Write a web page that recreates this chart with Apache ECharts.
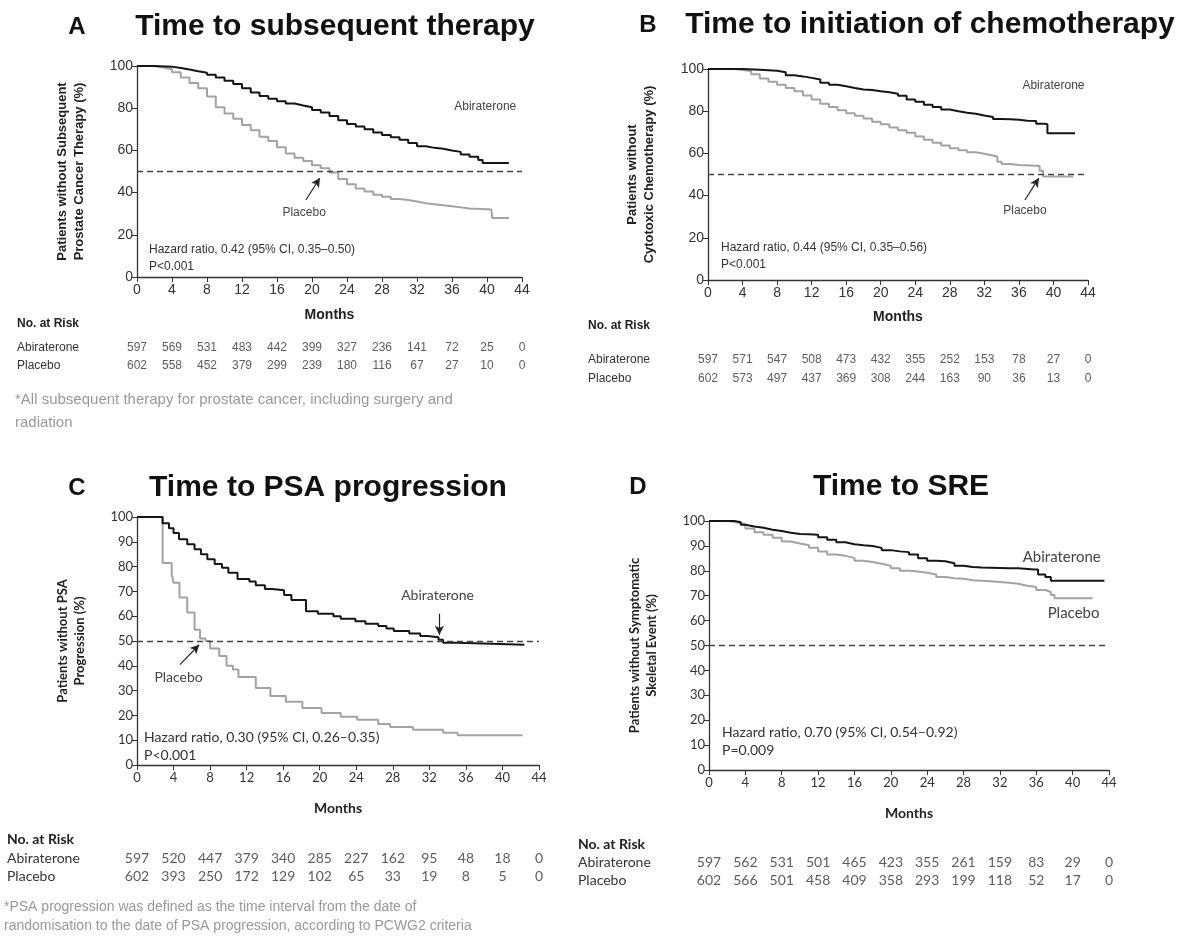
<!DOCTYPE html>
<html><head><meta charset="utf-8">
<script src="https://cdn.jsdelivr.net/npm/echarts@6/dist/echarts.min.js"></script>
<style>html,body{margin:0;padding:0;background:#fff}#c{width:1189px;height:943px}</style>
</head><body><div id="c"></div>
<script>
// ---------- DATA ----------
const riskMonths = [0,4,8,12,16,20,24,28,32,36,40,44];
const groups = ['Abiraterone','Placebo'];

// Panel A: time to subsequent therapy
const aAbi = [[0,100],[2,99.7],[4,99],[5,98.3],[6,97.5],[7,96.8],[8,95.8],[9,94.5],[10,93],[11,91.5],[12,89.5],[13,87.5],[14,85.8],[15,84.5],[16,83.3],[17,82.2],[18,81.3],[19,80.5],[20,79.2],[21,78],[22,76.3],[23,74.3],[24,72.5],[25,71.3],[26,70],[27,68.5],[28,67.3],[29,66.2],[30,65],[31,63.5],[32,62],[33,61.2],[34,60.8],[35,60],[36,59.3],[37,58],[38,57],[39,55.5],[39.5,54],[42.5,54]];
const aPla = [[0,100],[2,99.3],[3,98.5],[4,97],[5,94.5],[6,92],[7,89.5],[8,85.5],[9,80.5],[10,77.5],[11,75],[12,72],[13,69.5],[14,66.5],[15,64.5],[16,61.5],[17,58.5],[18,56.5],[19,55],[20,53],[21,51.5],[22,49.5],[23,46.5],[24,44],[25,42],[26,40.5],[27,39],[28,38],[29,37],[30,36.5],[31,35.8],[32,35],[33,34.5],[34,34],[35,33.5],[36,33],[37,32.5],[38,32],[40.5,31.8],[40.6,28],[42.5,28]];
const aRiskAbi = [597,569,531,483,442,399,327,236,141,72,25,0];
const aRiskPla = [602,558,452,379,299,239,180,116,67,27,10,0];

// Panel B: time to initiation of chemotherapy
const bAbi = [[0,100],[4,99.7],[6,99.2],[8,98.5],[9,97],[10,96.5],[11,95.8],[12,95],[13,93.5],[14,92.5],[15,91.8],[16,91],[17,90.3],[18,90],[19,89.5],[20,89],[21,88.3],[22,87.3],[23,85.5],[24,84.5],[25,83],[26,82],[27,80.8],[28,80],[29,79.3],[30,78.8],[31,78],[32,77.3],[33,76.3],[34,76.2],[35,76],[36,75.5],[37,75.3],[38,74],[39,73.8],[39.3,69.5],[42.5,69.5]];
const bPla = [[0,100],[3,99.5],[4,99],[5,97.5],[6,95.5],[7,94],[8,92.5],[9,91],[10,89.5],[11,87.5],[12,85.5],[13,83.5],[14,82],[15,80.5],[16,79],[17,77.8],[18,76.5],[19,75],[20,73.8],[21,72.3],[22,71],[23,69.8],[24,68],[25,66.5],[26,65],[27,63.8],[28,62.5],[29,61.5],[30,60.5],[31,59.8],[32,59],[33,58.5],[33.5,56],[34,55],[35,54.5],[36,54.2],[38,54],[38.4,51.8],[38.8,49],[42.3,49]];
const bRiskAbi = [597,571,547,508,473,432,355,252,153,78,27,0];
const bRiskPla = [602,573,497,437,369,308,244,163,90,36,13,0];

// Panel C: time to PSA progression
const cAbi = [[0,100],[2.8,97.5],[3.5,95.5],[4,93.5],[4.6,91],[5.5,89],[6.3,87],[7,85],[7.7,83],[8.5,81],[9.3,79.5],[10,77.5],[11,75],[12.3,74],[13,72.5],[14,71],[14.8,70.5],[16.1,68.5],[16.9,66.5],[18.5,62],[19.8,61],[21.5,60],[22.3,59],[23.9,58],[25,57],[26.4,56],[27.3,55],[28.1,54],[29.8,53],[31,52],[31.8,51.5],[33,50.5],[33.5,49.3],[35.1,48.5],[42.4,48.5]];
const cPla = [[0,100],[2.8,81.5],[3.8,77],[4,73.5],[4.65,67.5],[5.5,61.5],[6.3,54.5],[6.9,51],[7.5,50],[8,47],[9,44],[9.8,40],[10.5,38.5],[11.1,35.5],[13,31],[14.6,27.8],[16.3,25.5],[18.1,23],[20.2,21],[22.3,19.5],[24.1,18.2],[26.4,16.5],[27.7,15.3],[30.2,14.2],[33.5,13],[35.1,12],[42.2,12]];
const cRiskAbi = [597,520,447,379,340,285,227,162,95,48,18,0];
const cRiskPla = [602,393,250,172,129,102,65,33,19,8,5,0];

// Panel D: time to SRE
const dAbi = [[0,100],[1.5,100],[2.8,99.5],[3.5,98.5],[4,97.8],[5,97.3],[6,96.5],[7,96],[8,95.3],[9,94.8],[10,94.7],[11,94.5],[12,93.5],[13,92.5],[14,91.5],[15,90.7],[16,90.3],[17,90],[18,89.2],[19,88.3],[20,87.8],[21,87.5],[22,86.5],[23,85],[24,84],[25,83.8],[26,83],[27,82],[28,81.5],[29,81.3],[30,81],[33,81],[34,80.5],[35.8,80.5],[36.2,78.5],[37,77.5],[37.6,76],[43.5,76]];
const dPla = [[0,100],[2,99.5],[3,98.8],[4,97],[5,95.5],[6,94.5],[7,93.3],[8,91.8],[9,91],[10,90.3],[11,89.3],[12,87.8],[13,86.5],[14,86],[15,85.2],[16,84],[17,83.5],[18,82.8],[19,82],[20,81],[21,80],[22,79.7],[23,79.2],[24,78.5],[25,77.5],[26,77],[27,76.8],[28,76.2],[29,76],[30,75.8],[31,75.5],[32,75.2],[33,74.8],[34,74],[35,73.5],[36,72.3],[37,71.5],[37.6,70.3],[38,69],[42.2,69]];
const dRiskAbi = [597,562,531,501,465,423,355,261,159,83,29,0];
const dRiskPla = [602,566,501,458,409,358,293,199,118,52,17,0];

// ---------- LAYOUT / STYLE ----------
const SANS = '"Liberation Sans", Arial, sans-serif';
const NEJM = 'Lato, "Open Sans", sans-serif';
const ABI_C = '#151515', PLA_C = '#a3a3a3';

const panels = [
  {abi:aAbi, pla:aPla, rAbi:aRiskAbi, rPla:aRiskPla, font:SANS, fs:14, g:{left:137,top:66,width:385,height:211},
   yInt:20, yName:'Patients without Subsequent\nProstate Cancer Therapy (%)', nameGap:49, monthsGap:31,
   risk:{top:348,height:18}, rfs:12, labM:120,
   arrows:[[[19.3,36.5],[20.9,46.9]]], labels:[['Abiraterone',39.8,80.6],['Placebo',19.1,30.3]], lfs:12,
   hr:['Hazard ratio, 0.42 (95% CI, 0.35\u20130.50)','P<0.001']},
  {abi:bAbi, pla:bPla, rAbi:bRiskAbi, rPla:bRiskPla, font:SANS, fs:14, g:{left:708,top:69,width:380,height:211},
   yInt:20, yName:'Patients without\nCytotoxic Chemotherapy (%)', nameGap:50, monthsGap:30,
   risk:{top:360,height:19}, rfs:12, labM:120,
   arrows:[[[36.7,37.9],[38.3,48.3]]], labels:[['Abiraterone',40,91.9],['Placebo',36.7,32.7]], lfs:12,
   hr:['Hazard ratio, 0.44 (95% CI, 0.35\u20130.56)','P<0.001']},
  {abi:cAbi, pla:cPla, rAbi:cRiskAbi, rPla:cRiskPla, font:NEJM, fs:13, g:{left:137,top:517,width:402,height:248},
   yInt:10, yName:'Patients without PSA\nProgression (%)', nameGap:49, monthsGap:36,
   risk:{top:858,height:18}, rfs:14, labM:130,
   arrows:[[[4.7,40.5],[6.8,48.5]],[[33.1,61],[33.1,52.5]]], labels:[['Abiraterone',32.9,68.4],['Placebo',4.55,35.2]], lfs:14,
   hr:['Hazard ratio, 0.30 (95% CI, 0.26\u20130.35)','P<0.001']},
  {abi:dAbi, pla:dPla, rAbi:dRiskAbi, rPla:dRiskPla, font:NEJM, fs:13, g:{left:709,top:521,width:400,height:249},
   yInt:10, yName:'Patients without Symptomatic\nSkeletal Event (%)', nameGap:49, monthsGap:36,
   risk:{top:862,height:18}, rfs:14, labM:131,
   arrows:[], labels:[['Abiraterone',38.8,85.3],['Placebo',40.1,63]], lfs:15,
   hr:['Hazard ratio, 0.70 (95% CI, 0.54\u20130.92)','P=0.009']}
];

const grid=[], xAxis=[], yAxis=[], series=[];
panels.forEach((p,i)=>{
  const gi = grid.length;
  grid.push(Object.assign({}, p.g));
  xAxis.push({gridIndex:gi, type:'value', min:0, max:44, interval:4,
    name:'Months', nameLocation:'middle', nameGap:p.monthsGap,
    nameTextStyle:{fontFamily:p.font, fontWeight:'bold', fontSize:14, color:'#222'},
    axisLine:{lineStyle:{color:'#333', width:1.3}}, axisTick:{length:5, lineStyle:{color:'#333'}},
    axisLabel:{fontFamily:p.font, fontSize:p.fs, color:'#333', margin:6}, splitLine:{show:false}});
  yAxis.push({gridIndex:gi, type:'value', min:0, max:100, interval:p.yInt,
    name:p.yName, nameLocation:'middle', nameGap:p.nameGap, nameRotate:90,
    nameTextStyle:{fontFamily:p.font, fontWeight:'bold', fontSize:13, color:'#222', lineHeight:17, align:'center'},
    axisLine:{show:true, lineStyle:{color:'#333', width:1.3}}, axisTick:{show:true, length:5, lineStyle:{color:'#333'}},
    axisLabel:{fontFamily:p.font, fontSize:p.fs, color:'#333', margin:4}, splitLine:{show:false}});
  series.push({type:'line', name:'Abiraterone', xAxisIndex:gi, yAxisIndex:gi, data:p.abi, step:'end',
    showSymbol:false, symbol:'none', lineStyle:{color:ABI_C, width:2}, itemStyle:{color:ABI_C}, z:3,
    markLine:{silent:true, symbol:['none','none'], label:{show:false}, animation:false,
      lineStyle:{type:[6,4], color:'#444', width:1.3}, data:[{yAxis:50}]}});
  series.push({type:'line', name:'Placebo', xAxisIndex:gi, yAxisIndex:gi, data:p.pla, step:'end',
    showSymbol:false, symbol:'none', lineStyle:{color:PLA_C, width:2}, itemStyle:{color:PLA_C}, z:2,
    markLine:{silent:true, symbol:['none','arrow'], symbolSize:[7,9], label:{show:false}, animation:false,
      lineStyle:{type:'solid', color:'#222', width:1.2},
      data:p.arrows.map(a=>[{coord:a[0]},{coord:a[1]}])},
    markPoint:{silent:true, symbol:'rect', symbolSize:1, itemStyle:{color:'rgba(0,0,0,0)'}, animation:false,
      label:{show:true, position:'inside', formatter:(d)=>d.name, fontFamily:p.font, fontSize:p.lfs, color:'#444'},
      data:p.labels.map(l=>({name:l[0], coord:[l[1],l[2]]}))}});
  // risk table grid
  const ri = grid.length;
  grid.push({left:p.g.left, width:p.g.width, top:p.risk.top, height:p.risk.height});
  xAxis.push({gridIndex:ri, type:'value', min:0, max:44, interval:4, show:false});
  yAxis.push({gridIndex:ri, type:'category', data:groups, inverse:true, boundaryGap:false,
    axisLine:{show:false}, axisTick:{show:false}, splitLine:{show:false},
    axisLabel:{interval:0, hideOverlap:false, align:'left', margin:p.labM, fontFamily:p.font, fontSize:p.rfs, color:'#333'}});
  const rows = [p.rAbi, p.rPla];
  rows.forEach((r,ri2)=>{
    series.push({type:'scatter', xAxisIndex:ri, yAxisIndex:ri, symbolSize:1, itemStyle:{color:'rgba(0,0,0,0)'},
      silent:true, animation:false,
      data:r.map((v,k)=>[riskMonths[k], groups[ri2], v]),
      label:{show:true, position:'inside', formatter:(d)=>String(d.value[2]), fontFamily:p.font, fontSize:p.rfs, color:'#333'}});
  });
});

function txt(x,y,text,font,extra){
  return Object.assign({type:'text', x:x, y:y, silent:true,
    style:Object.assign({text:text, font:font, fill:'#111', textAlign:'left', textVerticalAlign:'middle'}, extra||{})});
}
const graphic = [
  txt(77,27,'A','bold 24px '+SANS,{textAlign:'center'}),
  txt(335,27,'Time to subsequent therapy','bold 30px '+SANS,{textAlign:'center'}),
  txt(648,25,'B','bold 24px '+SANS,{textAlign:'center'}),
  txt(930,25,'Time to initiation of chemotherapy','bold 30px '+SANS,{textAlign:'center'}),
  txt(77,488,'C','bold 24px '+SANS,{textAlign:'center'}),
  txt(328,488,'Time to PSA progression','bold 30px '+SANS,{textAlign:'center'}),
  txt(638,487,'D','bold 24px '+SANS,{textAlign:'center'}),
  txt(901,487,'Time to SRE','bold 30px '+SANS,{textAlign:'center'}),
  // HR texts
  txt(149,250,panels[0].hr[0],'12px '+SANS,{fill:'#333'}),
  txt(149,267,panels[0].hr[1],'12px '+SANS,{fill:'#333'}),
  txt(721,248,panels[1].hr[0],'12px '+SANS,{fill:'#333'}),
  txt(721,265,panels[1].hr[1],'12px '+SANS,{fill:'#333'}),
  txt(144,737,panels[2].hr[0],'14px '+NEJM,{fill:'#333'}),
  txt(144,755,panels[2].hr[1],'14px '+NEJM,{fill:'#333'}),
  txt(722,732,panels[3].hr[0],'14px '+NEJM,{fill:'#333'}),
  txt(722,750,panels[3].hr[1],'14px '+NEJM,{fill:'#333'}),
  // No. at Risk
  txt(17,324,'No. at Risk','bold 12px '+SANS,{fill:'#222'}),
  txt(588,326,'No. at Risk','bold 12px '+SANS,{fill:'#222'}),
  txt(7,839,'No. at Risk','bold 14px '+NEJM,{fill:'#222'}),
  txt(578,844,'No. at Risk','bold 14px '+NEJM,{fill:'#222'}),
  // footnotes
  txt(15,400,'*All subsequent therapy for prostate cancer, including surgery and','15px '+SANS,{fill:'#999'}),
  txt(15,423,'radiation','15px '+SANS,{fill:'#999'}),
  txt(4,907,'*PSA progression was defined as the time interval from the date of','14px '+SANS,{fill:'#999'}),
  txt(4,926,'randomisation to the date of PSA progression, according to PCWG2 criteria','14px '+SANS,{fill:'#999'})
];

const chart = echarts.init(document.getElementById('c'), null, {renderer:'canvas'});
chart.setOption({animation:false, backgroundColor:'#fff', grid, xAxis, yAxis, series, graphic});
</script></body></html>
